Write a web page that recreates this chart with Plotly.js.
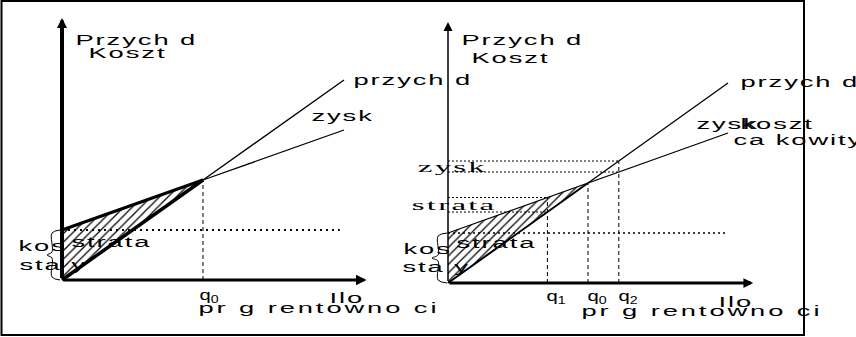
<!DOCTYPE html>
<html><head><meta charset="utf-8">
<script src="https://cdn.plot.ly/plotly-3.0.1.min.js"></script>
<style>html,body{margin:0;padding:0;background:#fff;} #chart{width:856px;height:337px;}</style>
</head><body><div id="chart"></div>
<script>
// ---- data: left panel (single break-even point q0) ----
const qLeft = [0, 100, 200];
const revenueLeft = [0, 100, 200];
const costLeft = [50, 100, 150];
// ---- data: right panel (q1, q0, q2) ----
const qRight = [0, 71, 100, 122, 200];
const revenueRight = [0, 71, 100, 122, 200];
const costRight = [50, 85.5, 100, 111, 150];
const fixedCost = 50;
const qLabelsLeft = ['q<sub>0</sub>'];
const qLabelsRight = ['q<sub>1</sub>', 'q<sub>0</sub>', 'q<sub>2</sub>'];
const yTitle = ['Przych d', 'Koszt'];
const xTitle = ['Ilo', 'pr g rentowno ci'];
const lineNames = ['przych d', 'zysk', 'koszt', 'ca kowity'];
const areaNames = ['strata', 'zysk', 'kos', 'sta y'];

// ---- pixel geometry of the two panels ----
const W = 856, H = 337;
const L = {ox: 62, oy: 280, kx: 1.41, ky: 1};
const R = {ox: 448, oy: 283, kx: 1.40, ky: 1};
const rng = p => ({x: [-p.ox / p.kx, (W - p.ox) / p.kx], y: [-(H - p.oy) / p.ky, p.oy / p.ky]});
const rL = rng(L), rR = rng(R);

const BLACK = '#000';
const pattern = {shape: '/', size: 6, solidity: 0.2, fgcolor: BLACK, bgcolor: '#fff', fillmode: 'replace'};
function seg(xs, ys, ax, w, dash) {
  return {type: 'scatter', mode: 'lines', x: xs, y: ys, xaxis: ax[0], yaxis: ax[1],
    line: {color: BLACK, width: w, dash: dash || 'solid'}, hoverinfo: 'skip', showlegend: false};
}
function brace(ax, top, xEnd, xSpine, xTip) {
  const mid = top / 2;
  return {type: 'scatter', mode: 'lines', xaxis: ax[0], yaxis: ax[1], hoverinfo: 'skip', showlegend: false,
    x: [xEnd, xSpine, xSpine, xTip, xSpine, xSpine, xEnd],
    y: [top, top - 3, mid + 3, mid, mid - 3, 3, 0],
    line: {color: BLACK, width: 1, shape: 'spline', smoothing: 1}};
}
const AL = ['x', 'y'], AR = ['x2', 'y2'];
const traces = [];
// left panel
traces.push({type: 'scatter', mode: 'lines', xaxis: 'x', yaxis: 'y', hoverinfo: 'skip', showlegend: false,
  x: [qLeft[0], qLeft[0], qLeft[1], qLeft[0]], y: [revenueLeft[0], costLeft[0], costLeft[1], revenueLeft[0]],
  fill: 'toself', fillpattern: pattern, line: {width: 0}});
traces.push(seg([0, qLeft[2] * 0.985], [fixedCost, fixedCost], AL, 2, '2px,4px'));
traces.push(seg([qLeft[1], qLeft[1]], [0, revenueLeft[1]], AL, 1, '4px,3px'));
traces.push(seg(qLeft.slice(0, 2), revenueLeft.slice(0, 2), AL, 3.5));
traces.push(seg(qLeft.slice(1), revenueLeft.slice(1), AL, 1.3));
traces.push(seg(qLeft.slice(0, 2), costLeft.slice(0, 2), AL, 3));
traces.push(seg(qLeft.slice(1), costLeft.slice(1), AL, 1.3));
traces.push(brace(AL, fixedCost, -1.4, -7.1, -10.6));
// right panel
traces.push({type: 'scatter', mode: 'lines', xaxis: 'x2', yaxis: 'y2', hoverinfo: 'skip', showlegend: false,
  x: [qRight[0], qRight[0], qRight[2], qRight[0]], y: [revenueRight[0], costRight[0], costRight[2], revenueRight[0]],
  fill: 'toself', fillpattern: pattern, line: {width: 0}});
traces.push(seg([0, qRight[4] * 0.99], [fixedCost, fixedCost], AR, 1.5, '2px,3px'));
[1, 3].forEach(i => {
  traces.push(seg([0, qRight[i]], [revenueRight[i], revenueRight[i]], AR, 1, '2px,2px'));
  traces.push(seg([0, qRight[i]], [costRight[i], costRight[i]], AR, 1, '2px,2px'));
});
[1, 2, 3].forEach(i => {
  traces.push(seg([qRight[i], qRight[i]], [0, Math.max(revenueRight[i], costRight[i])], AR, 1, '4px,3px'));
});
traces.push(seg(qRight.slice(0, 3), revenueRight.slice(0, 3), AR, 2));
traces.push(seg(qRight.slice(2), revenueRight.slice(2), AR, 1.3));
traces.push(seg(qRight, costRight, AR, 1.3));
traces.push(brace(AR, fixedCost, -0.5, -7.1, -11.4));

// ---- labels ----
const SANS = 'Liberation Sans, Arial, sans-serif';
const SERIF = 'Liberation Serif, Times New Roman, serif';
const annotations = [];
const labelFx = [];
function lab(text, x, y, ax, fx, font, extra) {
  annotations.push(Object.assign({text: text, x: x, y: y, xref: ax[0], yref: ax[1], showarrow: false,
    xanchor: 'left', yanchor: 'middle', align: 'left',
    font: Object.assign({family: SANS, size: 14, color: BLACK}, font || {})}, extra || {}));
  labelFx.push(fx);
}
const fxSans = {ls: 1, sx: 1.95};
const fxWide = {ls: 1.5, sx: 1.95};
const fxSerif = {ls: 1, sx: 2.2};
const fxQ = {ls: 0, sx: 1.35};
// left
lab(yTitle[0], 7.1, 240.5, AL, fxSans);
lab(yTitle[1], 16.3, 227.5, AL, fxSans);
lab(lineNames[0], 204.3, 200, AL, fxSans);
lab(lineNames[1], 174.7, 164, AL, fxSans);
lab(areaNames[0], 4.3, 38.5, AL, fxSans);
lab(areaNames[2], -33.3, 34, AL, fxSans);
lab(areaNames[3], -32.6, 15, AL, fxSans);
lab(qLabelsLeft[0], qLeft[1], -15, AL, fxQ, {size: 15}, {xshift: -6});
lab(xTitle[0], 187.5, -18, AL, fxSans);
lab(xTitle[1], 94.3, -27.7, AL, fxWide);
// right
lab(yTitle[0], 7.4, 243, AR, fxSans);
lab(yTitle[1], 14.5, 225.3, AR, fxSans);
lab(lineNames[0], 206.2, 200.7, AR, fxSans);
lab(lineNames[1], 175.2, 159, AR, fxSans);
lab(lineNames[2], 206.4, 159, AR, fxSans);
lab(lineNames[3], 201.4, 143.3, AR, fxSans);
lab(areaNames[1], -24.3, 115.6, AR, fxSerif, {family: SERIF, size: 15});
lab(areaNames[0], -28.4, 78.3, AR, fxSerif, {family: SERIF, size: 15});
lab(areaNames[0], 3.8, 40.4, AR, fxSans);
lab(areaNames[2], -34.3, 33.7, AR, fxSans);
lab(areaNames[3], -34.8, 15.7, AR, fxSans);
[1, 2, 3].forEach((i, k) => lab(qLabelsRight[k], qRight[i], -13.7, AR, fxQ, {size: 15}, {xshift: -3}));
lab(xTitle[0], 190.5, -19.2, AR, fxSans);
lab(xTitle[1], 93.1, -27.7, AR, fxWide);

// ---- axes drawn as arrows ----
function arrow(ax, x, y, w, size) {
  annotations.push({text: ' ', x: x, y: y, ax: 0, ay: 0, xref: ax[0], yref: ax[1], axref: ax[0], ayref: ax[1],
    showarrow: true, arrowhead: 2, arrowwidth: w, arrowsize: size, arrowcolor: BLACK, standoff: 0,
    font: {size: 1}});
}
arrow(AL, 0, 262, 4, 0.5);
arrow(AL, 216, 0, 3, 0.7);
arrow(AR, 0, 261, 1.5, 1.2);
arrow(AR, 218, 0, 3, 0.65);

const hidden = {visible: false, showgrid: false, zeroline: false, fixedrange: true};
const layout = {
  width: W, height: H, margin: {l: 0, r: 0, t: 0, b: 0, pad: 0},
  paper_bgcolor: '#fff', plot_bgcolor: 'rgba(0,0,0,0)', showlegend: false,
  xaxis: Object.assign({domain: [0, 1], range: rL.x, anchor: 'y'}, hidden),
  yaxis: Object.assign({domain: [0, 1], range: rL.y, anchor: 'x'}, hidden),
  xaxis2: Object.assign({domain: [0, 1], range: rR.x, anchor: 'y2'}, hidden),
  yaxis2: Object.assign({domain: [0, 1], range: rR.y, anchor: 'x2'}, hidden),
  annotations: annotations,
  shapes: [{type: 'rect', xref: 'paper', yref: 'paper', x0: 1.5 / W, x1: 804 / W, y0: 1 - 335 / H, y1: 1 - 1 / H,
    line: {color: BLACK, width: 2}, fillcolor: 'rgba(0,0,0,0)'}]
};

function stretchLabels(gd) {
  gd.querySelectorAll('g.annotation').forEach(g => {
    const i = +g.getAttribute('data-index');
    const st = labelFx[i];
    if (!st) return;
    const t = g.querySelector('text.annotation-text');
    if (st.ls) t.style.letterSpacing = st.ls + 'px';
    const tg = g.querySelector('g.annotation-text-g');
    const bb = tg.getBBox();
    const ox = bb.x;
    tg.setAttribute('transform', 'matrix(' + st.sx + ',0,0,1,' + ((1 - st.sx) * ox) + ',0)');
  });
}
Plotly.newPlot('chart', traces, layout, {staticPlot: true, displayModeBar: false}).then(stretchLabels);
</script>
</body></html>
